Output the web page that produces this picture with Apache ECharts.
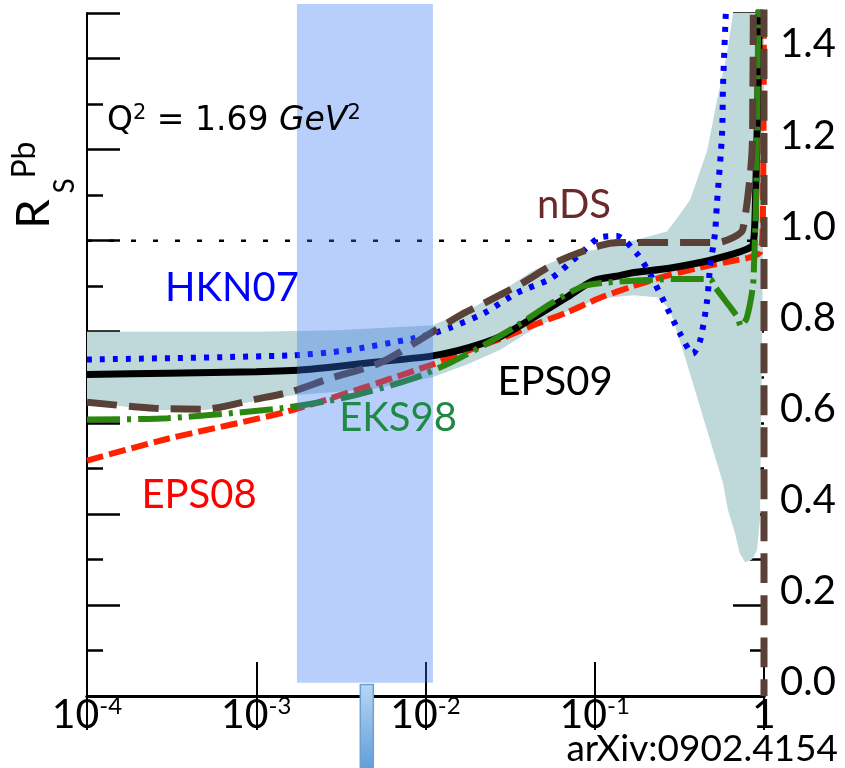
<!DOCTYPE html>
<html><head><meta charset="utf-8">
<script src="https://cdn.jsdelivr.net/npm/echarts@6/dist/echarts.min.js"></script>
<style>html,body{margin:0;padding:0;background:#fff}#c{width:845px;height:768px}</style>
</head><body><div id="c"></div>
<script>
// ---- tick labels ----
const xExponents = [-4, -3, -2, -1, 0];
const yTickLabels = ['0.0', '0.2', '0.4', '0.6', '0.8', '1.0', '1.2', '1.4'];

// ---- curves (x, R) ----
const eps09X = [1e-4, 3e-4, 1e-3, 2e-3, 5e-3, 1.1e-2, 1.8e-2, 2.8e-2, 4.3e-2, 6.8e-2, 0.098, 0.14, 0.17, 0.27, 0.42, 0.66, 0.8, 0.86, 0.885, 0.92, 0.95];
const eps09Y = [0.706, 0.709, 0.712, 0.717, 0.733, 0.747, 0.765, 0.79, 0.83, 0.875, 0.912, 0.923, 0.93, 0.939, 0.952, 0.971, 0.982, 0.99, 1.05, 1.32, 1.6];

const eps08X = [1e-4, 3e-4, 1.6e-3, 1.1e-2, 1.8e-2, 2.8e-2, 4.3e-2, 6.8e-2, 0.107, 0.168, 0.267, 0.42, 0.66, 0.82, 0.95, 0.985, 1.0];
const eps08Y = [0.517, 0.565, 0.627, 0.728, 0.759, 0.785, 0.814, 0.842, 0.874, 0.90, 0.923, 0.941, 0.956, 0.963, 0.975, 1.05, 1.6];

const eks98X = [1e-4, 3e-4, 1.4e-3, 3.4e-3, 8.4e-3, 1.4e-2, 2.2e-2, 3.5e-2, 5.5e-2, 8.5e-2, 0.117, 0.32, 0.48, 0.51, 0.62, 0.70, 0.73, 0.79, 0.86, 0.875, 0.9, 0.93];
const eks98Y = [0.607, 0.61, 0.632, 0.656, 0.697, 0.732, 0.77, 0.814, 0.862, 0.90, 0.908, 0.916, 0.916, 0.90, 0.858, 0.831, 0.812, 0.83, 0.9, 0.96, 1.1, 1.6];

const hkn07X = [1e-4, 1.6e-3, 3.4e-3, 8.4e-3, 1.1e-2, 1.4e-2, 2.2e-2, 3.5e-2, 5.5e-2, 8.2e-2, 0.107, 0.135, 0.178, 0.212, 0.267, 0.319, 0.38, 0.419, 0.461, 0.48, 0.513, 0.527, 0.565, 0.573, 0.61];
const hkn07Y = [0.739, 0.748, 0.759, 0.785, 0.796, 0.809, 0.84, 0.886, 0.917, 0.971, 1.007, 1.01, 0.971, 0.927, 0.853, 0.796, 0.752, 0.78, 0.868, 0.941, 1.015, 1.08, 1.234, 1.344, 1.6];

const ndsX = [1e-4, 2.5e-4, 5e-4, 1e-3, 1.6e-3, 2.7e-3, 5.4e-3, 9.7e-3, 1.67e-2, 2.2e-2, 3.7e-2, 6.2e-2, 0.107, 0.14, 0.27, 0.53, 0.66, 0.75, 0.85, 0.86, 0.885, 1.0, 1.0];
const ndsY = [0.645, 0.632, 0.63, 0.652, 0.668, 0.697, 0.732, 0.787, 0.84, 0.862, 0.906, 0.956, 0.989, 0.996, 0.996, 0.996, 1.007, 1.025, 1.197, 1.344, 1.6, 1.6, 0];

// EPS09 uncertainty band
const bandUpX = [1e-4, 1e-3, 3e-3, 1.1e-2, 1.76e-2, 2.75e-2, 4.3e-2, 6.85e-2, 0.107, 0.168, 0.267, 0.307, 0.366, 0.461, 0.527, 0.604, 0.656, 0.75, 1.0];
const bandUpY = [0.80, 0.80, 0.803, 0.814, 0.846, 0.886, 0.934, 0.967, 0.982, 1.0, 1.02, 1.05, 1.09, 1.197, 1.307, 1.41, 1.5, 1.7, 1.7];
const bandLoX = [1e-4, 2.5e-4, 5e-4, 1e-3, 1.6e-3, 5e-3, 1.1e-2, 1.76e-2, 2.75e-2, 4.3e-2, 6.85e-2, 0.107, 0.17, 0.24, 0.279, 0.332, 0.381, 0.437, 0.5, 0.573, 0.613, 0.675, 0.72, 0.773, 0.85, 0.909, 0.947, 0.975, 1.0];
const bandLoY = [0.645, 0.628, 0.628, 0.648, 0.66, 0.675, 0.70, 0.728, 0.76, 0.805, 0.845, 0.873, 0.88, 0.875, 0.846, 0.759, 0.686, 0.612, 0.54, 0.467, 0.408, 0.357, 0.313, 0.294, 0.30, 0.32, 0.39, 0.8, 1.2];

// reference line R = 1
const refX = [1e-4, 1];
const refY = [1, 1];

// highlighted x-range (annotation) and marker
const rangeX = [1.74e-3, 1.107e-2];
const rangeY = [0.029, 1.52];
const markerX = 4.5e-3;
const markerY = 0.025;

const zip = (xs, ys) => xs.map((x, i) => [x, ys[i]]);
const FONT = 'Lato, "Open Sans", sans-serif';

const chart = echarts.init(document.getElementById('c'), null, {renderer: 'canvas'});

function lineSeries(name, xs, ys, color, width, type, z) {
  return {
    name, type: 'line', data: zip(xs, ys), showSymbol: false, symbol: 'none',
    smooth: 0.25, clip: true, z: z, silent: true,
    lineStyle: {color, width, type, cap: 'butt'}
  };
}

const option = {
  animation: false,
  backgroundColor: '#fff',
  grid: {left: 87, right: 81, top: 13, bottom: 72, containLabel: false, outerBoundsMode: 'none'},
  xAxis: [
    {
      type: 'log', logBase: 10, min: 1e-4, max: 1, position: 'bottom',
      axisLine: {show: true, lineStyle: {color: '#000', width: 3}},
      axisTick: {show: true, inside: true, length: 34, lineStyle: {color: '#000', width: 2}},
      minorTick: {show: false}, splitLine: {show: false},
      axisLabel: {
        show: true, margin: -2, color: '#000',
        formatter: function (v) {
          const e = Math.round(Math.log10(v));
          const i = xExponents.indexOf(e);
          if (i < 0) return '';
          return xExponents[i] === 0 ? '{b|1}' : '{b|10}{s|' + xExponents[i] + '}';
        },
        rich: {
          b: {fontSize: 41, fontFamily: FONT, color: '#000'},
          s: {fontSize: 24, fontFamily: FONT, color: '#000', padding: [0, 0, 16, 0]}
        }
      }
    },
    {
      type: 'log', logBase: 10, min: 1e-4, max: 1, position: 'top',
      axisLine: {show: true, lineStyle: {color: '#000', width: 3}},
      axisTick: {show: true, inside: true, length: 34, lineStyle: {color: '#000', width: 2}},
      axisLabel: {show: false}, splitLine: {show: false}
    }
  ],
  yAxis: [
    {
      type: 'value', min: 0, max: 1.5, interval: 0.2, position: 'left',
      axisLine: {show: true, lineStyle: {color: '#000', width: 2}},
      axisTick: {show: true, inside: true, length: 33, lineStyle: {color: '#000', width: 2.5}},
      axisLabel: {show: false}, splitLine: {show: false}
    },
    {
      type: 'value', min: 0, max: 1.5, interval: 0.1, position: 'left',
      axisLine: {show: false},
      axisTick: {show: true, inside: true, length: 16, lineStyle: {color: '#000', width: 2.5}},
      axisLabel: {show: false}, splitLine: {show: false}
    },
    {
      type: 'value', min: 0, max: 1.5, interval: 0.2, position: 'right',
      axisLine: {show: false},
      axisTick: {show: true, inside: true, length: 31, lineStyle: {color: '#000', width: 2.5}},
      axisLabel: {
        show: true, margin: 16, color: '#000', fontSize: 40, fontFamily: FONT,
        verticalAlign: 'bottom', lineHeight: 28,
        formatter: function (v) {
          const i = Math.round(v / 0.2);
          return (Math.abs(v - i * 0.2) < 1e-6 && i < yTickLabels.length) ? yTickLabels[i] : '';
        }
      },
      splitLine: {show: false}
    },
    {
      type: 'value', min: 0, max: 1.5, interval: 0.1, position: 'right',
      axisLine: {show: false},
      axisTick: {show: true, inside: true, length: 14, lineStyle: {color: '#000', width: 2.5}},
      axisLabel: {show: false}, splitLine: {show: false}
    }
  ],
  series: [
    {
      name: 'EPS09 band', type: 'custom', clip: true, silent: true, z: 1,
      data: [[1e-2, 1]],
      renderItem: function (params, api) {
        const pts = [];
        for (let i = 0; i < bandUpX.length; i++) pts.push(api.coord([bandUpX[i], bandUpY[i]]));
        for (let i = bandLoX.length - 1; i >= 0; i--) pts.push(api.coord([bandLoX[i], bandLoY[i]]));
        return {type: 'polygon', shape: {points: pts, smooth: 0}, style: {fill: '#BFD8D9', stroke: null}};
      }
    },
    {
      name: 'R=1', type: 'line', data: zip(refX, refY), showSymbol: false, symbol: 'none', z: 2, silent: true,
      lineStyle: {color: '#000', width: 2.5, type: [5, 17]}
    },
    lineSeries('EPS08', eps08X, eps08Y, '#FF2200', 6, [17, 6], 3),
    lineSeries('EPS09', eps09X, eps09Y, '#000000', 7, 'solid', 4),
    lineSeries('HKN07', hkn07X, hkn07Y, '#0000FF', 6, [5, 8], 5),
    lineSeries('EKS98', eks98X, eks98Y, '#2B870F', 6, [33, 7, 4, 7], 6),
    lineSeries('nDS', ndsX, ndsY, '#5A4137', 7, [30, 12], 7)
  ]
};
chart.setOption(option);

// annotations placed through the chart's own coordinate conversion
const toPx = (p) => chart.convertToPixel({xAxisIndex: 0, yAxisIndex: 0}, p);
const r0 = toPx([rangeX[0], rangeY[1]]);
const r1 = toPx([rangeX[1], rangeY[0]]);
const m0 = toPx([markerX, markerY]);

const labelStyle = (text, color) => ({text, fontSize: 40, fontFamily: FONT, fill: color, textAlign: 'center', textVerticalAlign: 'middle', verticalAlign: 'middle'});

chart.setOption({
  graphic: [
    {type: 'rect', z: 50, silent: true,
     shape: {x: r0[0], y: r0[1], width: r1[0] - r0[0], height: r1[1] - r0[1]},
     style: {fill: 'rgba(55,118,243,0.35)'}},
    {type: 'rect', z: 50, silent: true,
     shape: {x: m0[0] - 6.5, y: m0[1], width: 13, height: 768 - m0[1] + 5},
     style: {fill: new echarts.graphic.LinearGradient(0, 0, 0, 1, [{offset: 0, color: '#B8D6F4'}, {offset: 1, color: '#5B9BD8'}]), stroke: '#6C9FD2', lineWidth: 1.5}},
    {type: 'text', z: 100, x: 107, y: 121, silent: true,
     style: {text: '{a|Q}{s|2}{a| = 1.69 }{i|GeV}{s|2}', textAlign: 'left', textVerticalAlign: 'middle', verticalAlign: 'middle',
       rich: {a: {fontSize: 33, fontFamily: '"DejaVu Sans"', fill: '#000', color: '#000'},
              i: {fontSize: 33, fontFamily: '"DejaVu Sans"', fontStyle: 'italic', fill: '#000', color: '#000'},
              s: {fontSize: 21, fontFamily: '"DejaVu Sans"', fill: '#000', color: '#000', padding: [0, 0, 14, 0]}}}},
    {type: 'text', z: 100, x: 574, y: 205, silent: true, style: labelStyle('nDS', '#6B2A2A')},
    {type: 'text', z: 100, x: 232, y: 288, silent: true, style: labelStyle('HKN07', '#0000FF')},
    {type: 'text', z: 100, x: 555, y: 382, silent: true, style: labelStyle('EPS09', '#000000')},
    {type: 'text', z: 100, x: 398, y: 418, silent: true, style: labelStyle('EKS98', '#1F8A46')},
    {type: 'text', z: 100, x: 199, y: 495, silent: true, style: labelStyle('EPS08', '#FF0000')},
    {type: 'text', z: 100, x: 838, y: 749, silent: true,
     style: {text: 'arXiv:0902.4154', fontSize: 37, fontFamily: FONT, fill: '#000', textAlign: 'right', textVerticalAlign: 'middle', verticalAlign: 'middle'}},
    {type: 'text', z: 100, x: 34, y: 214, rotation: Math.PI / 2, silent: true,
     style: {text: 'R', fontSize: 47, fontFamily: FONT, fill: '#000', textAlign: 'center', textVerticalAlign: 'middle', verticalAlign: 'middle'}},
    {type: 'text', z: 100, x: 65, y: 186, rotation: Math.PI / 2, silent: true,
     style: {text: 'S', fontSize: 28, fontFamily: FONT, fill: '#000', textAlign: 'center', textVerticalAlign: 'middle', verticalAlign: 'middle'}},
    {type: 'text', z: 100, x: 25, y: 160, rotation: Math.PI / 2, silent: true,
     style: {text: 'Pb', fontSize: 32, fontFamily: FONT, fill: '#000', textAlign: 'center', textVerticalAlign: 'middle', verticalAlign: 'middle'}}
  ]
});
</script>
</body></html>
